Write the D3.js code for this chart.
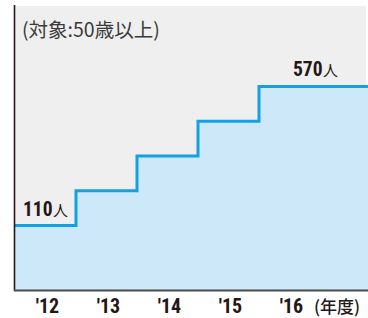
<!DOCTYPE html>
<html><head><meta charset="utf-8">
<script src="https://cdn.jsdelivr.net/npm/d3@7"></script>
<style>body{margin:0;background:#fff}svg{display:block}</style>
</head><body><svg id="c" width="368" height="318"></svg>
<script>
const years = ["'12", "'13", "'14", "'15", "'16"];
const values = [110, 225, 340, 455, 570];
const valueLabels = [{i:0, text:"110", unit:"人"}, {i:4, text:"570", unit:"人"}];
const title = "(対象:50歳以上)";
const unitLabel = "(年度)";

const svg = d3.select("#c");
const L = 15, R = 366, T = 6, B = 290;
const step = 61;
const x = d3.scaleBand().domain(years).range([L, L + step * years.length]).paddingInner(0).paddingOuter(0);
const y = d3.scaleLinear().domain([-103, 836]).range([B, T]);

svg.append("rect").attr("x", L).attr("y", T).attr("width", R - L).attr("height", B - T).attr("fill", "#efefef");

const pts = years.map((d, i) => [x(d), y(values[i])]);
pts.push([R + 2, y(values[values.length - 1])]);

const line = d3.line().curve(d3.curveStepAfter);
const area = d3.area().curve(d3.curveStepAfter).y0(B).x(d => d[0]).y1(d => d[1]);

svg.append("path").attr("d", area(pts)).attr("fill", "#cce8f9");
svg.append("path").attr("d", line(pts)).attr("fill", "none").attr("stroke", "#15a0e3").attr("stroke-width", 3);

// axes
svg.append("line").attr("x1", L - 0.5).attr("x2", L - 0.5).attr("y1", T - 1).attr("y2", B + 1).attr("stroke", "#231815").attr("stroke-width", 1.6);
svg.append("line").attr("x1", L - 1).attr("x2", R + 2).attr("y1", B + 0.5).attr("y2", B + 0.5).attr("stroke", "#4a4a4a").attr("stroke-width", 2);

// x labels
const fontNum = "'Liberation Sans Narrow', 'Roboto Condensed', Roboto, sans-serif";
const xl = svg.append("g");
years.forEach(d => {
  xl.append("text").attr("x", x(d) + x.bandwidth() / 2 + 2).attr("y", 313)
    .attr("text-anchor", "middle").attr("font-family", fontNum).attr("font-weight", 700)
    .attr("font-size", 20).attr("fill", "#231815").text(d);
});
svg.append("text").attr("x", 314).attr("y", 313).attr("text-anchor", "start")
  .attr("font-family", "'Noto Sans CJK JP', sans-serif").attr("font-size", 17).attr("font-weight", 500)
  .attr("fill", "#231815").text(unitLabel);

// value labels
valueLabels.forEach(v => {
  const cx = v.i === 0 ? 23 : 293;
  const yy = y(values[v.i]) - 10;
  const t = svg.append("text").attr("x", cx).attr("y", yy).attr("font-family", fontNum)
    .attr("font-weight", 700).attr("font-size", 19.5).attr("fill", "#231815");
  t.append("tspan").text(v.text);
  t.append("tspan").attr("font-family", "'Noto Sans CJK JP', sans-serif").attr("font-weight", 400).attr("font-size", 15).attr("dx", 0.5).text(v.unit);
});

svg.append("text").attr("x", 22).attr("y", 37).attr("font-family", "'Noto Sans CJK JP', sans-serif")
  .attr("font-size", 19.5).attr("fill", "#3a3a3a").text(title);
</script></body></html>
